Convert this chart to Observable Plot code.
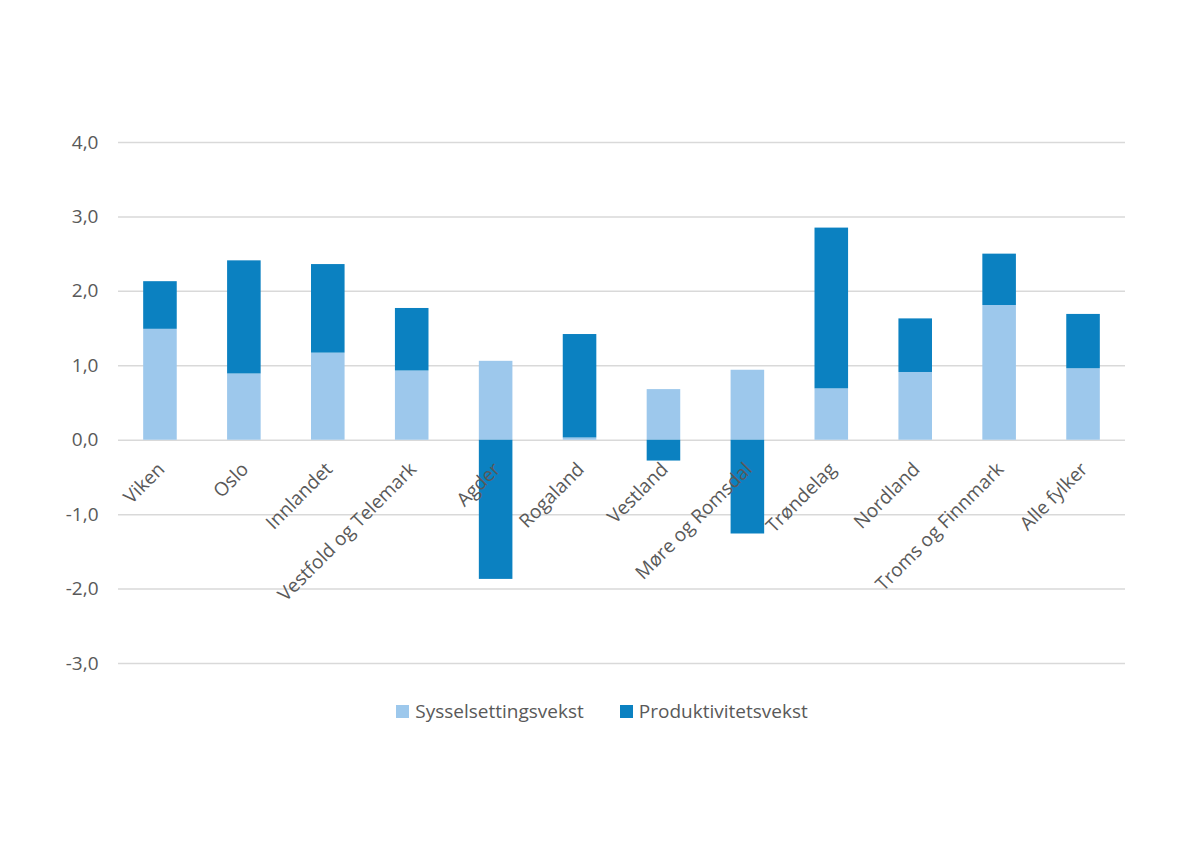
<!DOCTYPE html>
<html>
<head>
<meta charset="utf-8">
<script src="https://cdn.jsdelivr.net/npm/d3@7"></script>
<script src="https://cdn.jsdelivr.net/npm/@observablehq/plot@0.6"></script>
<style>
  html, body { margin: 0; padding: 0; background: #fff; }
  #chart { position: relative; width: 1200px; height: 857px; font-family: "Open Sans", sans-serif; }
  #legend { position: absolute; top: 698px; left: 2px; width: 1200px; display: flex; justify-content: center; gap: 36px; font-size: 19px; color: #595959; }
  .item { display: flex; align-items: center; }
  .sw { width: 13px; height: 13px; margin-right: 6px; display: inline-block; }
</style>
</head>
<body>
<div id="chart"></div>
<script>
const regions = ["Viken", "Oslo", "Innlandet", "Vestfold og Telemark", "Agder", "Rogaland", "Vestland", "Møre og Romsdal", "Trøndelag", "Nordland", "Troms og Finnmark", "Alle fylker"];
const series = ["Sysselsettingsvekst", "Produktivitetsvekst"];
const sysselsetting = [1.49, 0.89, 1.17, 0.93, 1.06, 0.03, 0.68, 0.94, 0.69, 0.91, 1.81, 0.96];
const produktivitet = [0.64, 1.52, 1.19, 0.84, -1.87, 1.39, -0.28, -1.26, 2.16, 0.72, 0.69, 0.73];
const yTicks = [-3, -2, -1, 0, 1, 2, 3, 4];
const colors = ["#9dc8ec", "#0b81c1"];

const data = [];
regions.forEach((r, i) => {
  data.push({region: r, series: series[0], value: sysselsetting[i]});
  data.push({region: r, series: series[1], value: produktivitet[i]});
});

const fmt = d => d.toFixed(1).replace(".", ",");

const plot = Plot.plot({
  width: 1200,
  height: 690,
  marginTop: 142,
  marginBottom: 27,
  marginLeft: 118,
  marginRight: 75,
  style: {fontFamily: "Open Sans, sans-serif", fontSize: "19px", color: "#595959", background: "#fff"},
  x: {domain: regions, paddingInner: 0.6, paddingOuter: 0.3, round: false, axis: null},
  y: {domain: [-3, 4], ticks: yTicks, tickFormat: fmt, label: null, tickSize: 0, tickPadding: 20},
  color: {domain: series, range: colors},
  marks: [
    Plot.ruleY(yTicks, {stroke: "#d9d9d9", strokeWidth: 1.5}),
    Plot.barY(data, {x: "region", y: "value", fill: "series", order: series}),
    Plot.text(regions, {x: d => d, y: d => 0, text: d => d, rotate: -45, textAnchor: "end", dx: 1, dy: 26, fill: "#595959", fontSize: 19})
  ]
});
document.getElementById("chart").appendChild(plot);

const legend = document.createElement("div");
legend.id = "legend";
series.forEach((s, i) => {
  const it = document.createElement("div");
  it.className = "item";
  const sw = document.createElement("span");
  sw.className = "sw";
  sw.style.background = colors[i];
  it.appendChild(sw);
  it.appendChild(document.createTextNode(s));
  legend.appendChild(it);
});
document.getElementById("chart").appendChild(legend);
</script>
</body>
</html>
